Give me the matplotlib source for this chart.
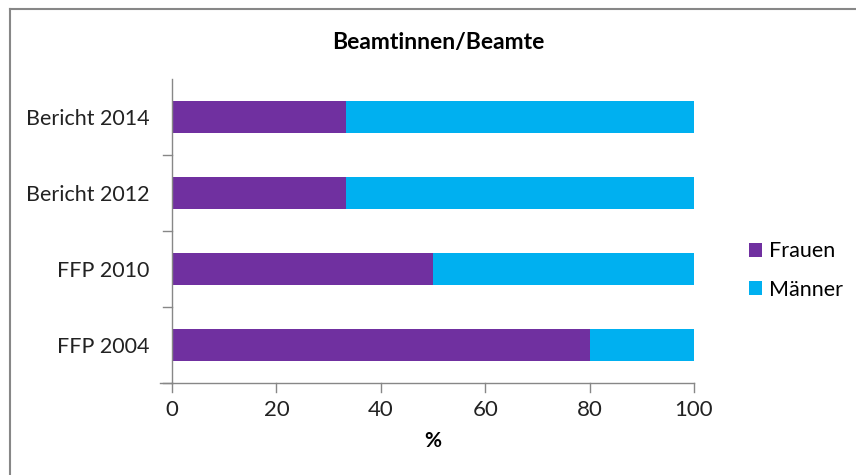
import matplotlib.pyplot as plt
from matplotlib.lines import Line2D
import numpy as np

plt.rcParams['font.family'] = ['Lato', 'DejaVu Sans']

# Anteile Frauen / Männer in Prozent
categories = ["FFP 2004", "FFP 2010", "Bericht 2012", "Bericht 2014"]
frauen = [80, 50, 33.3, 33.3]
maenner = [20, 50, 66.7, 66.7]
xticks = [0, 20, 40, 60, 80, 100]

purple = "#7030A0"
cyan = "#00B0F0"
axis_grey = "#878787"

fig = plt.figure(figsize=(8.56, 4.75), dpi=100)
ax = fig.add_axes([172 / 856, 1 - 383 / 475, (694 - 172) / 856, (383 - 79) / 475])

y = np.arange(len(categories))
bar_h = 0.41
ax.barh(y, frauen, height=bar_h, color=purple, label="Frauen")
ax.barh(y, maenner, left=frauen, height=bar_h, color=cyan, label="Männer")

ax.set_xlim(0, 100)
ax.set_ylim(-0.5, len(categories) - 0.5)
ax.set_xticks(xticks)
ax.set_xticklabels([str(t) for t in xticks], fontsize=16, color="#222222")
ax.set_yticks(y)
ax.set_yticklabels(categories, fontsize=15.5, color="#222222")
ax.tick_params(axis="y", length=0, pad=16)
ax.tick_params(axis="x", length=0, pad=12)

# Teilstriche zwischen den Kategorien bzw. unter der x-Achse
for b in np.arange(-0.5, len(categories) - 0.5, 1.0):
    ax.plot([-1.7, 0], [b, b], color=axis_grey, lw=1, clip_on=False)
for t in xticks:
    ax.plot([t, t], [-0.5, -0.5 - 0.12], color=axis_grey, lw=1, clip_on=False)
ax.plot([-2.3, 0], [-0.5, -0.5], color=axis_grey, lw=1, clip_on=False)

for side in ["top", "right"]:
    ax.spines[side].set_visible(False)
for side in ["left", "bottom"]:
    ax.spines[side].set_color(axis_grey)
    ax.spines[side].set_linewidth(1)

ax.set_xlabel("%", fontsize=15, fontweight="bold", labelpad=8)
fig.text(438 / 856, 1 - 42 / 475, "Beamtinnen/Beamte", ha="center", va="center",
         fontsize=16.5, fontweight="bold")

leg = ax.legend(loc="center left", bbox_to_anchor=(1.068, 0.37), frameon=False,
                fontsize=15.5, handlelength=0.6, handleheight=0.6,
                handletextpad=0.35, labelspacing=0.85)

# Rahmen oben und links
fig.add_artist(Line2D([10 / 856, 10 / 856], [0, 1 - 9 / 475], color=axis_grey, lw=1.5,
                      transform=fig.transFigure))
fig.add_artist(Line2D([10 / 856, 1], [1 - 9 / 475, 1 - 9 / 475], color=axis_grey, lw=1.5,
                      transform=fig.transFigure))

fig.savefig("out.png", dpi=100)
